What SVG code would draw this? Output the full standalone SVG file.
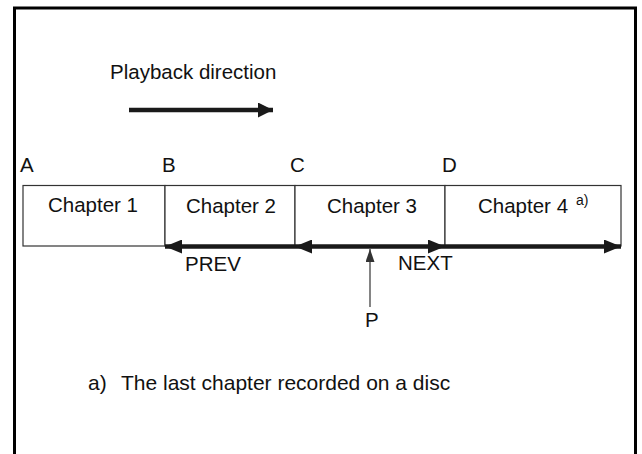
<svg xmlns="http://www.w3.org/2000/svg" width="642" height="454" viewBox="0 0 642 454">
<style>
text{font-family:"Liberation Sans",Arial,sans-serif;font-size:20.5px;fill:#111}
.box{fill:#fff;stroke:#333;stroke-width:1.2}
.thick{stroke:#1a1a1a;stroke-width:4.5;fill:none}
.thin{stroke:#333;stroke-width:1.2;fill:none}
.c{text-anchor:middle}
.fn{font-size:21px}
</style>
<defs>
<marker id="ah" markerUnits="userSpaceOnUse" viewBox="0 0 17 14" refX="17" refY="7" markerWidth="17" markerHeight="14" orient="auto-start-reverse">
<path d="M0,0 L17,7 L0,14 Z" fill="#1a1a1a"/>
</marker>
<marker id="ahs" markerUnits="userSpaceOnUse" viewBox="0 0 13 9" refX="13" refY="4.5" markerWidth="13" markerHeight="9" orient="auto">
<path d="M0,0 L13,4.5 L0,9 Z" fill="#333"/>
</marker>
<marker id="ahb" markerUnits="userSpaceOnUse" viewBox="0 0 15 15" refX="15" refY="7.5" markerWidth="15" markerHeight="15" orient="auto">
<path d="M0,0 L15,7.5 L0,15 Z" fill="#1a1a1a"/>
</marker>
</defs>
<path d="M14.5,454 V8 H635.5 V454" fill="none" stroke="#000" stroke-width="3"/>
<text x="110" y="79">Playback direction</text>
<g id="chapter1"><rect class="box" x="23" y="185.5" width="142" height="60.5"/><text class="c" x="93" y="212">Chapter 1</text></g>
<g id="chapter2"><rect class="box" x="165" y="185.5" width="130" height="60.5"/><text class="c" x="231" y="213">Chapter 2</text></g>
<g id="chapter3"><rect class="box" x="295" y="185.5" width="150" height="60.5"/><text class="c" x="372" y="213">Chapter 3</text></g>
<g id="chapter4"><rect class="box" x="445" y="185.5" width="176" height="60.5"/><text x="478" y="213">Chapter 4</text><text x="576" y="205" style="font-size:14px">a)</text></g>
<g id="labels">
<text x="20" y="172">A</text>
<text x="162" y="172">B</text>
<text x="290" y="172">C</text>
<text x="442" y="172">D</text>
<text x="185" y="271">PREV</text>
<text x="398" y="270">NEXT</text>
<text x="365" y="327">P</text>
<text class="fn" x="88" y="390">a)</text>
<text class="fn" x="121" y="390">The last chapter recorded on a disc</text>
</g>
<g id="connectors">
<line class="thick" x1="129" y1="110" x2="273" y2="110" stroke-width="5" marker-end="url(#ahb)"/>
<line class="thick" x1="295" y1="246.5" x2="165" y2="246.5" marker-end="url(#ah)"/>
<line class="thick" x1="295" y1="246.5" x2="445" y2="246.5" marker-start="url(#ah)" marker-end="url(#ah)"/>
<line class="thick" x1="445" y1="246.5" x2="621" y2="246.5" marker-end="url(#ah)"/>
<line class="thin" x1="370" y1="307" x2="370" y2="249" marker-end="url(#ahs)"/>
</g>
</svg>
